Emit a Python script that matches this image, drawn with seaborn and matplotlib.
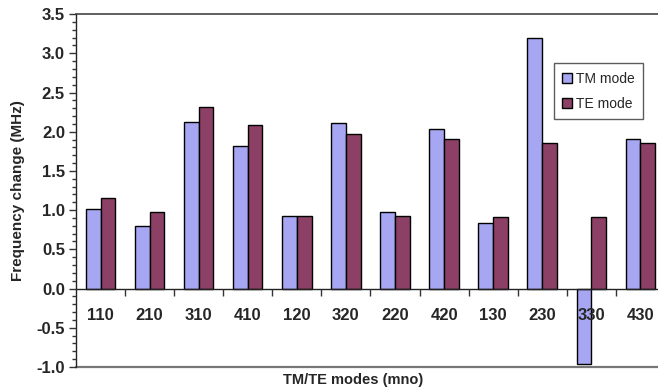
import matplotlib
matplotlib.use("Agg")
import matplotlib.pyplot as plt
from matplotlib.ticker import MultipleLocator, FixedLocator
import pandas as pd
import seaborn as sns

# Resonant mode labels (m, n, o indices)
modes = ["110", "210", "310", "410", "120", "320", "220", "420", "130", "230", "330", "430"]
# Frequency change in MHz for each mode family
tm_change = [1.01, 0.80, 2.12, 1.82, 0.93, 2.11, 0.98, 2.04, 0.84, 3.20, -0.96, 1.91]
te_change = [1.15, 0.98, 2.32, 2.08, 0.93, 1.97, 0.92, 1.91, 0.91, 1.85, 0.91, 1.85]
series = ["TM mode", "TE mode"]

df = pd.DataFrame({
    "mode": modes * 2,
    "series": [series[0]] * len(modes) + [series[1]] * len(modes),
    "change": tm_change + te_change,
})

sns.set_theme(style="white")
plt.rcParams["font.family"] = ["Liberation Sans", "DejaVu Sans"]

fig = plt.figure(figsize=(6.58, 3.92), dpi=100)
ax = fig.add_axes([0.1155, 0.064, 0.895, 0.900])

sns.barplot(data=df, x="mode", y="change", hue="series", order=modes,
            hue_order=series, palette=["#9999FF", "#993366"],
            width=0.6, gap=0, edgecolor="black", linewidth=1.0, ax=ax)

# axis artists (tick labels, zero line) drawn above the bars
ax.set_axisbelow(False)

ax.set_ylim(-1.0, 3.5)
ax.set_xlim(-0.5, len(modes) - 0.5)

# y axis: major every 0.5, minor every 0.1
ax.yaxis.set_major_locator(MultipleLocator(0.5))
ax.yaxis.set_minor_locator(MultipleLocator(0.1))
ax.yaxis.set_major_formatter(matplotlib.ticker.FormatStrFormatter("%.1f"))
ax.tick_params(axis="y", which="major", direction="out", length=5, width=1,
               color="#333333", labelsize=12, pad=3, left=True)
ax.tick_params(axis="y", which="minor", direction="out", length=3, width=1,
               color="#333333", left=True)
for lab in ax.get_yticklabels():
    lab.set_fontweight("bold")

# category axis sits on the zero line, with ticks between groups
ax.spines["bottom"].set_position(("data", 0))
ax.spines["bottom"].set_color("#222222")
ax.spines["bottom"].set_linewidth(1.0)
ax.xaxis.set_minor_locator(FixedLocator([i + 0.5 for i in range(len(modes) - 1)]))
ax.tick_params(axis="x", which="major", length=0, labelsize=12, pad=14, bottom=True)
ax.tick_params(axis="x", which="minor", direction="out", length=5, width=1,
               color="#333333", bottom=True)
for lab in ax.get_xticklabels():
    lab.set_fontweight("bold")

ax.spines["left"].set_color("#222222")
ax.spines["left"].set_linewidth(1.0)
ax.spines["top"].set_color("#444444")
ax.spines["top"].set_linewidth(1.2)
ax.spines["right"].set_visible(False)
ax.axhline(-1.0, color="#777777", linewidth=1.6, clip_on=False, zorder=0)

ax.set_xlabel("TM/TE modes (mno)", fontsize=10.5, fontweight="bold")
ax.xaxis.set_label_coords(0.47, -0.018)
ax.set_ylabel("Frequency change (MHz)", fontsize=11, fontweight="bold", labelpad=8)

leg = ax.legend(loc="upper left", bbox_to_anchor=(0.80, 0.88), frameon=True,
                fancybox=False, edgecolor="#333333", fontsize=10,
                handlelength=0.7, handleheight=0.7, handletextpad=0.3,
                borderpad=0.6, labelspacing=0.8)
leg.get_frame().set_linewidth(1.0)
for h in leg.legend_handles:
    h.set_edgecolor("black")
    h.set_linewidth(1.0)

fig.savefig("out.png", dpi=100)
